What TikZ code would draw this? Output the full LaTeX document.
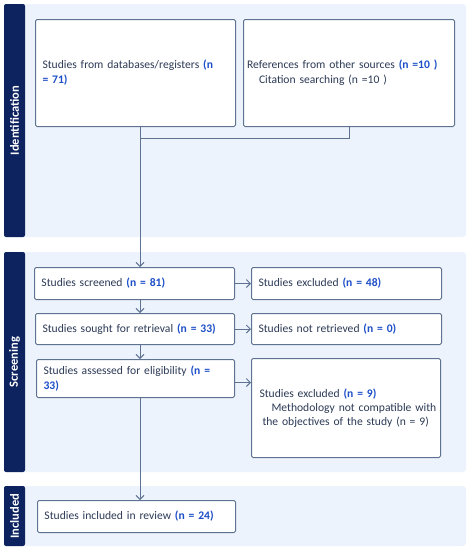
\documentclass[tikz,border=0pt]{standalone}
\usepackage{fontspec}
\setmainfont{Carlito}
\usetikzlibrary{arrows.meta,calc}
\definecolor{barblue}{HTML}{0D235F}
\definecolor{panelblue}{HTML}{EDF3FC}
\definecolor{boxline}{HTML}{5E7291}
\definecolor{txt}{HTML}{2C3A56}
\definecolor{nblue}{HTML}{1D4FC8}
\newcommand{\nval}[1]{\textcolor{nblue}{\bfseries #1}}
\tikzset{
  panel/.style={fill=panelblue, draw=none, rounded corners=3pt},
  bar/.style={fill=barblue, draw=none, rounded corners=2pt},
  barlabel/.style={text=white, font=\bfseries\fontsize{12.5}{14}\selectfont, rotate=90},
  box/.style={draw=boxline, line width=1pt, fill=white, rounded corners=1.5pt, anchor=north west,
    align=left, text=txt, font=\fontsize{11.6}{15}\selectfont, inner xsep=7pt, inner ysep=2pt},
  conn/.style={draw=boxline, line width=1pt},
  arr/.style={conn, -{Straight Barb[length=4pt,width=8pt,line width=0.9pt]}},
}
\begin{document}
\begin{tikzpicture}[x=1pt,y=-1pt]
\useasboundingbox (0,0) rectangle (469,550);
% panels
\fill[panel] (4,4) rectangle (466,237);
\fill[panel] (4,252) rectangle (466,472);
\fill[panel] (4,486) rectangle (466,546);
\fill[bar] (4,4) rectangle (25,237);
\fill[bar] (4,252) rectangle (25,472);
\fill[bar] (4,486) rectangle (25,546);
\node[barlabel] (lid) at (14.5,120.5) {Identification};
\node[barlabel] (lsc) at (14.5,362) {Screening};
\node[barlabel] (lin) at (14.5,516) {Included};
% boxes
\node[box, minimum width=200pt, minimum height=107pt, text width=186pt] (db) at (35,19)
  {Studies from databases/registers \nval{(n}\\\nval{= 71)}};
\node[box, minimum width=211pt, minimum height=107pt, text width=204pt, inner xsep=3.5pt] (oth) at (243,19)
  {References from other sources \nval{(n =10 )}\\\hspace*{12pt}Citation searching (n =10 )};
\node[box, minimum width=200pt, minimum height=32pt, text width=186pt] (scr) at (34,267)
  {Studies screened \nval{(n = 81)}};
\node[box, minimum width=199pt, minimum height=31pt, text width=185pt] (sou) at (35,313)
  {Studies sought for retrieval \nval{(n = 33)}};
\node[box, minimum width=198pt, minimum height=38pt, text width=184pt, inner xsep=7pt] (ass) at (36,359)
  {Studies assessed for eligibility \nval{(n =}\\\nval{33)}};
\node[box, minimum width=190pt, minimum height=32pt, text width=176pt] (exc) at (251,267)
  {Studies excluded \nval{(n = 48)}};
\node[box, minimum width=190pt, minimum height=31pt, text width=176pt] (nre) at (251,313)
  {Studies not retrieved \nval{(n = 0)}};
\node[box, minimum width=189pt, minimum height=99pt, text width=185pt, inner xsep=2pt, font=\fontsize{11.6}{14}\selectfont] (ex9) at (251,358)
  {\hspace*{6pt}Studies excluded \nval{(n = 9)}\\\hspace*{18pt}Methodology not compatible with\\\hspace*{9pt}the objectives of the study (n = 9)};
\node[box, minimum width=198pt, minimum height=32pt, text width=184pt] (inc) at (37,500)
  {Studies included in review \nval{(n = 24)}};
% connectors
\coordinate (spine) at (140,0);
\coordinate (merge) at (140,138);
\draw[conn] (db.south -| spine) -- (merge);
\draw[conn] (oth.south) -- (oth.south |- merge) -- (merge);
\draw[arr] (merge) -- (scr.north -| spine);
\draw[arr] (scr.south -| spine) -- (sou.north -| spine);
\draw[arr] (sou.south -| spine) -- (ass.north -| spine);
\draw[arr] (ass.south -| spine) -- (inc.north -| spine);
\draw[arr] (scr.east) -- (exc.west);
\draw[arr] (sou.east) -- (nre.west);
\draw[arr] ([yshift=-4pt]ass.east) -- ([yshift=-4pt]ass.east -| ex9.west);
\end{tikzpicture}
\end{document}
